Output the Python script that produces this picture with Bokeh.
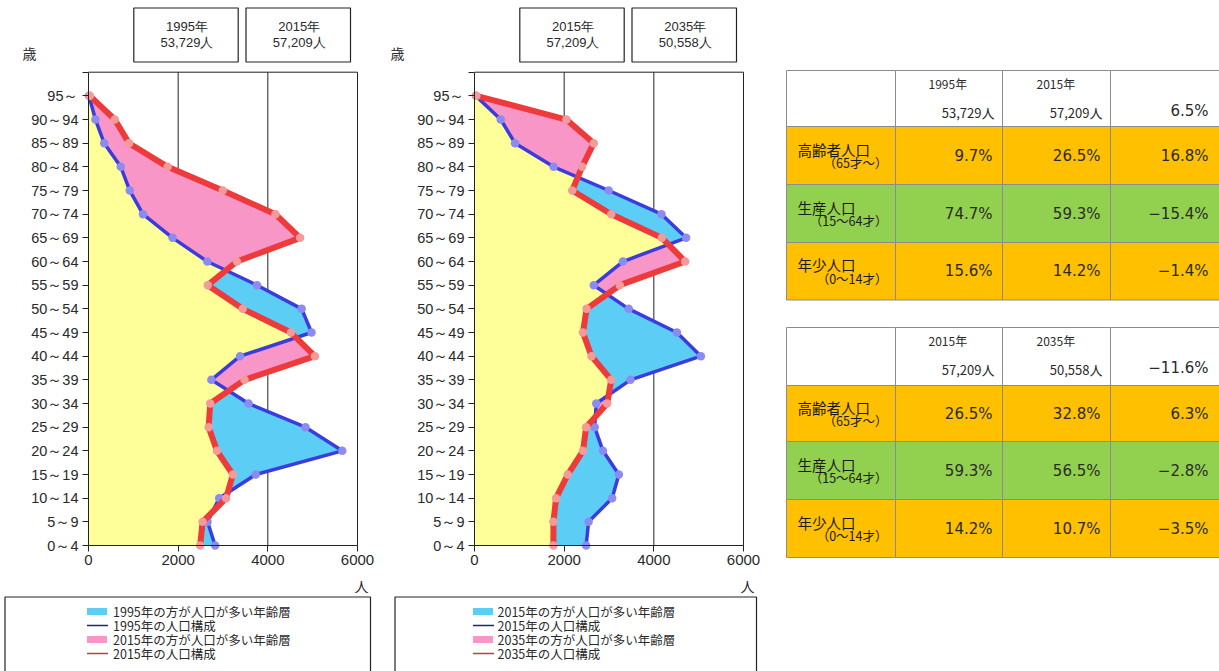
import numpy as np
from bokeh.plotting import figure
from bokeh.models import Range1d, LinearAxis, FixedTicker, ColumnDataSource
from bokeh.layouts import row
from bokeh.embed import file_html
from bokeh.resources import INLINE
from bokeh.core.properties import value

# ---------------- data ----------------
age_groups = ["0～4", "5～9", "10～14", "15～19", "20～24", "25～29", "30～34",
              "35～39", "40～44", "45～49", "50～54", "55～59", "60～64", "65～69",
              "70～74", "75～79", "80～84", "85～89", "90～94", "95～"]
pop_1995 = [2825, 2655, 2915, 3730, 5660, 4840, 3570, 2740, 3380, 4975,
            4755, 3760, 2650, 1875, 1215, 920, 720, 350, 155, 10]
pop_2015 = [2490, 2545, 3070, 3220, 2865, 2680, 2715, 3480, 5050, 4515,
            3440, 2660, 3310, 4720, 4170, 2995, 1765, 905, 585, 30]
pop_2035 = [1760, 1760, 1820, 2080, 2420, 2490, 2960, 3050, 2610, 2420,
            2500, 3240, 4700, 4180, 3050, 2180, 2400, 2660, 2050, 40]
x_ticks = [0, 2000, 4000, 6000]

years = ["1995", "2015", "2035"]
totals = ["53,729", "57,209", "50,558"]

group_labels = ["高齢者人口", "生産人口", "年少人口"]
group_ranges = ["（65才～）", "（15～64才）", "（0～14才）"]
share_1995 = [9.7, 74.7, 15.6]
share_2015 = [26.5, 59.3, 14.2]
share_2035 = [32.8, 56.5, 10.7]
change_a = [16.8, -15.4, -1.4]
change_b = [6.3, -2.8, -3.5]
total_change = [6.5, -11.6]

# ---------------- styles ----------------
YELLOW = "#FFFF99"
CYAN = "#5CCEF5"
PINK = "#F896C8"
BLUE = "#3B3BE0"
BLUE_PT = "#8C8CF0"
RED = "#EE3A3A"
RED_PT = "#F49A9A"
AXIS = "#222222"
TXT = "#2A2A2A"
ORANGE = "#FFC000"
GREEN = "#92D050"

W, H = 386, 671
PXX = 269 / 6000.0
Y_TOP_PX, Y_BOT_PX = 71.7, 545.0
PXY = (Y_BOT_PX - Y_TOP_PX) / 20.0
ZERO_OFF = 88


def refine(a, b):
    a = np.asarray(a, float)
    b = np.asarray(b, float)
    ys, ar, br = [0.0], [a[0]], [b[0]]
    for i in range(len(a) - 1):
        d0 = a[i] - b[i]
        d1 = a[i + 1] - b[i + 1]
        if d0 * d1 < 0:
            t = d0 / (d0 - d1)
            xa = a[i] + t * (a[i + 1] - a[i])
            ys.append(i + t); ar.append(xa); br.append(xa)
        ys.append(float(i + 1)); ar.append(a[i + 1]); br.append(b[i + 1])
    ys = np.array(ys); ar = np.array(ar); br = np.array(br)
    return ys, ar, br, np.minimum(ar, br)


def fmt(v):
    s = f"{abs(v):.1f}%"
    return ("−" + s) if v < 0 else s


def make_chart(older, newer, y_old, y_new, tot_old, tot_new, fig_x0, sai_x, box_l, box_r, text_x):
    z = fig_x0 + ZERO_OFF  # page x of value 0
    p = figure(width=W, height=H,
               x_range=Range1d(-ZERO_OFF / PXX, (W - ZERO_OFF) / PXX),
               y_range=Range1d(-(H - Y_BOT_PX) / PXY, 20 + Y_TOP_PX / PXY),
               x_axis_location=None, y_axis_location=None,
               toolbar_location=None, output_backend="svg",
               min_border=0, outline_line_color=None,
               background_fill_color="white", border_fill_color="white")
    p.center = []
    p.extra_x_ranges = {"px": Range1d(fig_x0, fig_x0 + W)}
    p.extra_y_ranges = {"px": Range1d(H, 0)}
    kw = dict(x_range_name="px", y_range_name="px")

    # frame / grid lines (vertical at 2000, 4000, 6000; top edge)
    gx = x_ticks[1:]
    p.segment(x0=gx + [0], x1=gx + [6000], y0=[0] * len(gx) + [20], y1=[20] * len(gx) + [20],
              line_color=AXIS, line_width=1, level="underlay")

    ys, ar, br, mn = refine(older, newer)
    src = ColumnDataSource(dict(y=ys, zero=np.zeros_like(ys), mn=mn, a=ar, b=br))
    p.harea(x1="zero", x2="mn", y="y", source=src, fill_color=YELLOW)
    p.harea(x1="mn", x2="a", y="y", source=src, fill_color=CYAN)
    p.harea(x1="mn", x2="b", y="y", source=src, fill_color=PINK)

    idx = list(range(len(age_groups)))
    p.line(older, idx, line_color=BLUE, line_width=3.5, line_join="round")
    p.scatter(older, idx, size=8.5, fill_color=BLUE_PT, line_color=None)
    p.line(newer, idx, line_color=RED, line_width=6, line_join="round")
    p.scatter(newer, idx, size=8.5, fill_color=RED_PT, line_color=None)

    xaxis = LinearAxis(fixed_location=0, ticker=FixedTicker(ticks=x_ticks), bounds=(0, 6000),
                       axis_line_color=AXIS, major_tick_line_color=AXIS,
                       major_tick_out=6, major_tick_in=0, minor_tick_line_color=None,
                       major_label_text_font="Liberation Sans", major_label_text_font_size="15px",
                       major_label_text_color=TXT, major_label_standoff=3)
    p.add_layout(xaxis, "below")
    overrides = {i: lab for i, lab in enumerate(age_groups)}
    overrides[20] = ""
    yaxis = LinearAxis(fixed_location=0, ticker=FixedTicker(ticks=list(range(21))), bounds=(0, 20),
                       major_label_overrides=overrides,
                       axis_line_color=AXIS, major_tick_line_color=AXIS,
                       major_tick_out=6, major_tick_in=0, minor_tick_line_color=None,
                       major_label_text_font="Liberation Sans", major_label_text_font_size="14.5px",
                       major_label_text_color=TXT, major_label_standoff=4)
    p.add_layout(yaxis, "left")

    # header boxes
    bl = [z + 45.3, z + 157.5]
    bR = [z + 149.7, z + 262]
    p.quad(left=bl, right=bR, top=[7.5, 7.5], bottom=[61.5, 61.5],
           fill_color="white", line_color=AXIS, line_width=1.2, **kw)
    cx = [(l + r) / 2 + 1 for l, r in zip(bl, bR)]
    p.text(x=cx + cx, y=[26, 26, 42, 42],
           text=[y_old + "年", y_new + "年", tot_old + "人", tot_new + "人"],
           text_align="center", text_baseline="middle", text_color=TXT,
           text_font=value("Liberation Sans"), text_font_size="13px", **kw)
    p.text(x=[sai_x], y=[52], text=["歳"], text_align="center", text_baseline="middle",
           text_color=TXT, text_font=value("Noto Sans CJK JP"), text_font_size="14px", **kw)
    p.text(x=[z + 273], y=[585], text=["人"], text_align="center", text_baseline="middle",
           text_color=TXT, text_font=value("Noto Sans CJK JP"), text_font_size="14px", **kw)

    # legend box
    p.line(x=[box_l, box_l, box_r, box_r], y=[700, 596.5, 596.5, 700],
           line_color=AXIS, line_width=1.2, **kw)
    rows_y = [611, 625, 639, 653]
    sx0, sx1 = z - 1.5, z + 18.5
    p.quad(left=[sx0, sx0], right=[sx1, sx1], top=[rows_y[0] - 3.5, rows_y[2] - 3.5],
           bottom=[rows_y[0] + 3.5, rows_y[2] + 3.5], fill_color=[CYAN, PINK], line_color=None, **kw)
    p.segment(x0=[sx0, sx0], x1=[sx1 + 1, sx1 + 1], y0=[rows_y[1], rows_y[3]], y1=[rows_y[1], rows_y[3]],
              line_color=["#23237A", "#A84A4A"], line_width=1.3, **kw)
    labels = [f"{y_old}年の方が人口が多い年齢層", f"{y_old}年の人口構成",
              f"{y_new}年の方が人口が多い年齢層", f"{y_new}年の人口構成"]
    p.text(x=[text_x] * 4, y=rows_y, text=labels, text_align="left", text_baseline="middle",
           text_color=TXT, text_font=value("Noto Sans CJK JP"), text_font_size="12.5px", **kw)
    return p


p1 = make_chart(pop_1995, pop_2015, years[0], years[1], totals[0], totals[1], 0,
                sai_x=29, box_l=4.5, box_r=370, text_x=112.5)
p2 = make_chart(pop_2015, pop_2035, years[1], years[2], totals[1], totals[2], W,
                sai_x=397, box_l=394.5, box_r=756, text_x=497)

# ---------------- tables ----------------
TX0 = 2 * W
TW = 1219 - TX0
t = figure(width=TW, height=H, x_range=Range1d(TX0, 1219), y_range=Range1d(H, 0),
           x_axis_location=None, y_axis_location=None, toolbar_location=None,
           output_backend="svg", min_border=0, outline_line_color=None,
           background_fill_color="white", border_fill_color="white")
t.center = []

col_edges = [786, 895, 1002, 1110, 1235]
GRAY = "#8C8C8C"


def draw_table(rows_edges, y_a, y_b, tot_a, tot_b, tot_change, sh_a, sh_b, ch):
    fills = ["white", ORANGE, GREEN, ORANGE]
    L, R, T, B, F = [], [], [], [], []
    for r in range(4):
        for c in range(4):
            L.append(col_edges[c]); R.append(col_edges[c + 1])
            T.append(rows_edges[r]); B.append(rows_edges[r + 1]); F.append(fills[r])
    t.quad(left=L, right=R, top=T, bottom=B, fill_color=F, line_color=GRAY, line_width=1)
    top = rows_edges[0]
    # header
    t.text(x=[col_edges[1] + 33, col_edges[2] + 34], y=[top + 13, top + 13],
           text=[y_a + "年", y_b + "年"], text_align="left", text_baseline="middle",
           text_color=TXT, text_font=value("Noto Sans CJK JP"), text_font_size="12px")
    t.text(x=[col_edges[2] - 8, col_edges[3] - 8], y=[top + 42, top + 42],
           text=[tot_a + "人", tot_b + "人"], text_align="right", text_baseline="middle",
           text_color=TXT, text_font=value("Noto Sans CJK JP"), text_font_size="13px")
    t.text(x=[1208], y=[top + 40], text=[fmt(tot_change)], text_align="right", text_baseline="middle",
           text_color=TXT, text_font=value("DejaVu Sans"), text_font_size="15px")
    # body
    cy = [(rows_edges[r] + rows_edges[r + 1]) / 2 for r in range(1, 4)]
    t.text(x=[797] * 3, y=[c - 6.5 for c in cy], text=group_labels, text_align="left",
           text_baseline="middle", text_color="#1A1A1A",
           text_font=value("Noto Sans CJK JP"), text_font_size="14.5px")
    t.text(x=[887] * 3, y=[c + 7 for c in cy], text=group_ranges, text_align="right",
           text_baseline="middle", text_color="#1A1A1A",
           text_font=value("Noto Sans CJK JP"), text_font_size="12.5px")
    xs, yv, tv = [], [], []
    for k in range(3):
        for xr, v in zip([992, 1100, 1208], [sh_a[k], sh_b[k], ch[k]]):
            xs.append(xr); yv.append(cy[k]); tv.append(fmt(v))
    t.text(x=xs, y=yv, text=tv, text_align="right", text_baseline="middle",
           text_color=TXT, text_font=value("DejaVu Sans"), text_font_size="15px")


draw_table([70, 126, 184, 242, 299.5], years[0], years[1], totals[0], totals[1],
           total_change[0], share_1995, share_2015, change_a)
draw_table([327, 385, 441, 499, 557], years[1], years[2], totals[1], totals[2],
           total_change[1], share_2015, share_2035, change_b)

layout = row(p1, p2, t, spacing=0)
open("out.html", "w").write(file_html(layout, INLINE))
